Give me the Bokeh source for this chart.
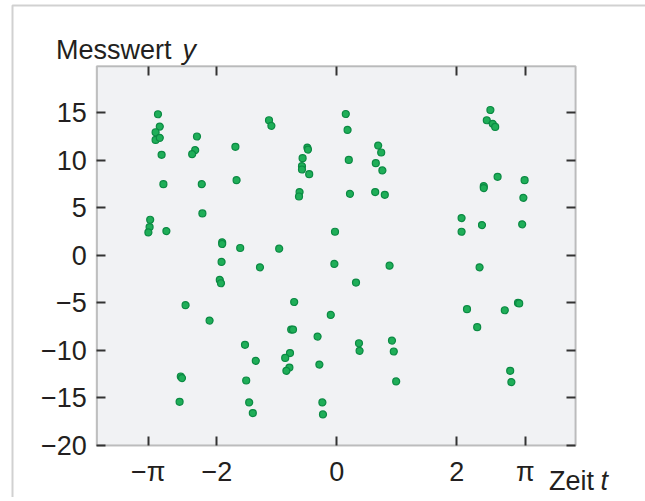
import numpy as np
from bokeh.plotting import figure
from bokeh.models import (FixedTicker, LinearAxis, Label, Range1d, ColumnDataSource,
                          BoxAnnotation)
from bokeh.embed import file_html
from bokeh.resources import INLINE

# ---- data ----
t_vals = [-2.98, -2.95, -3.02, -3.02, -2.95, -2.92, -2.33, -2.36, -2.41, -1.69,
          -1.13, -1.09, -0.49, -0.48, -0.57, -0.58, -0.58, -0.46, -2.89, -2.25,
          -1.67, -0.62, -0.63, -3.11, -3.12, -3.14, -2.84, -2.24, -1.91, -1.91,
          -1.61, -0.96, -0.03, 0.15, 0.18, 0.20, 0.22,
          0.69, 0.74, 0.65, 0.76, 0.64, 0.80, 2.56, 2.50, 2.60, 2.64, 2.68, 3.13,
          2.45, 2.45, 3.11, 2.08, 2.08, 2.42, 3.09,
          -1.92, -1.28, -0.04, -1.95, -1.93, -2.52, -0.71, -0.10, -2.12, -0.76,
          -0.73, -0.32, -1.53, -0.78, -0.86, -1.35, -0.79, -0.84, -0.29, -2.60,
          -2.58, -1.51, -2.62, -1.46, -1.40, -0.24, -0.23,
          0.88, 2.38, 0.32, 2.17, 2.80, 3.02, 3.04, 2.34, 0.37, 0.38, 0.92, 0.95,
          0.99, 2.89, 2.91]
y_vals = [14.85, 13.56, 12.96, 12.15, 12.37, 10.58, 12.51, 11.07, 10.65, 11.42,
          14.22, 13.63, 11.35, 11.14, 10.23, 9.39, 9.04, 8.55, 7.50, 7.50,
          7.92, 6.66, 6.20, 3.75, 2.98, 2.42, 2.56, 4.42, 1.38, 1.20,
          0.78, 0.71, 2.49, 14.88, 13.20, 10.05, 6.48,
          11.56, 10.83, 9.71, 8.94, 6.66, 6.38, 15.30, 14.22, 13.84, 13.52, 8.27, 7.92,
          7.29, 7.08, 6.06, 3.93, 2.49, 3.19, 3.27,
          -0.69, -1.25, -0.90, -2.58, -2.93, -5.24, -4.90, -6.26, -6.86, -7.80,
          -7.80, -8.54, -9.41, -10.28, -10.78, -11.09, -11.80, -12.14, -11.48, -12.74,
          -12.91, -13.16, -15.40, -15.47, -16.59, -15.47, -16.73,
          -1.08, -1.25, -2.86, -5.66, -5.77, -5.00, -5.05, -7.55, -9.24, -10.04, -8.96, -10.11,
          -13.26, -12.14, -13.33]

x_ticks = [-np.pi, -2, 0, 2, np.pi]
x_tick_labels = ["\u2212\u03c0", "\u22122", "0", "2", "\u03c0"]
y_ticks = [-20, -15, -10, -5, 0, 5, 10, 15]
y_tick_labels = ["\u221220", "\u221215", "\u221210", "\u22125", "0", "5", "10", "15"]

x_title = "Zeit"
x_symbol = "t"
y_title = "Messwert"
y_symbol = "y"

# visible plot box (data units)
X0, X1 = -4.0, 3.98
Y0, Y1 = -20.0, 19.9

FONT = "Liberation Sans"
FS = "27px"
TXT = "#231f20"
AX = "#333333"

W, H = 645, 497
p = figure(width=W, height=H, output_backend="svg", toolbar_location=None,
           x_range=Range1d(-5.605, 5.145), y_range=Range1d(-25.47, 26.82),
           min_border=0, x_axis_location=None, y_axis_location=None)
p.background_fill_color = "white"
p.border_fill_color = "white"
p.outline_line_color = None
p.xgrid.visible = False
p.ygrid.visible = False

# plot box background + frame
p.add_layout(BoxAnnotation(left=X0, right=X1, bottom=Y0, top=Y1,
                           fill_color="#f1f2f4", fill_alpha=1.0,
                           line_color=AX, line_width=2, level="underlay"))
# outer frame of the figure panel
p.add_layout(BoxAnnotation(left=-5.405, right=6.0, top=26.29, bottom=-27.0,
                           fill_color=None, fill_alpha=0, line_color="#666666",
                           line_width=2, level="underlay"))

xt = FixedTicker(ticks=x_ticks)
yt = FixedTicker(ticks=y_ticks)


def style_axis(ax, labels):
    ax.axis_line_color = None
    ax.major_tick_in = 9
    ax.major_tick_out = 0
    ax.major_tick_line_color = AX
    ax.major_tick_line_width = 2
    ax.minor_tick_line_color = None
    if labels:
        ax.major_label_text_font = FONT
        ax.major_label_text_font_size = FS
        ax.major_label_text_color = TXT
    else:
        ax.major_label_text_font_size = "0px"
        ax.major_label_text_alpha = 0


bx = LinearAxis(ticker=xt, fixed_location=Y0, bounds=(X0, X1),
                major_label_overrides=dict(zip(x_ticks, x_tick_labels)))
style_axis(bx, True)
bx.major_label_standoff = 11
p.add_layout(bx, "below")

ly = LinearAxis(ticker=yt, fixed_location=X0, bounds=(Y0, Y1),
                major_label_overrides=dict(zip(y_ticks, y_tick_labels)))
style_axis(ly, True)
ly.major_label_standoff = 10
ly.major_label_text_baseline = "hanging"
p.add_layout(ly, "left")

ax_top = LinearAxis(ticker=xt, fixed_location=Y1, bounds=(X0, X1))
style_axis(ax_top, False)
p.add_layout(ax_top, "above")

ax_right = LinearAxis(ticker=yt, fixed_location=X1, bounds=(Y0, Y1))
style_axis(ax_right, False)
p.add_layout(ax_right, "right")

src = ColumnDataSource(dict(t=t_vals, y=y_vals))
p.scatter("t", "y", source=src, size=7, fill_color="#1fae58", line_color="#0b8a43",
          line_width=1.2)

# axis titles (text with italic symbol)
p.add_layout(Label(x=-4.68, y=21.63, text=y_title, text_font=FONT, text_font_size=FS,
                   text_color=TXT, text_baseline="alphabetic"))
p.add_layout(Label(x=-2.57, y=21.63, text=y_symbol, text_font=FONT, text_font_size=FS,
                   text_font_style="italic", text_color=TXT, text_baseline="alphabetic"))
p.add_layout(Label(x=3.537, y=-23.71, text=x_title, text_font=FONT, text_font_size=FS,
                   text_color=TXT, text_baseline="alphabetic"))
p.add_layout(Label(x=4.395, y=-23.71, text=x_symbol, text_font=FONT, text_font_size=FS,
                   text_font_style="italic", text_color=TXT, text_baseline="alphabetic"))

open("out.html", "w").write(file_html(p, INLINE))
